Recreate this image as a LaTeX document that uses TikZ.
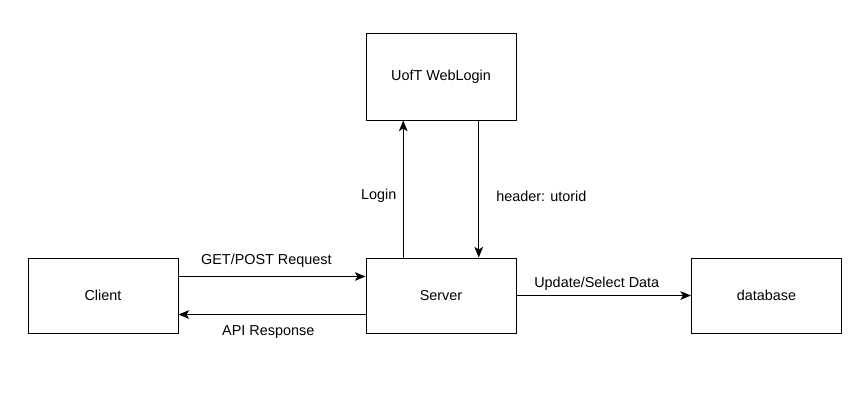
\documentclass[tikz,border=0pt]{standalone}
\usepackage{fontspec}
\setmainfont{Liberation Sans}
\usetikzlibrary{arrows.meta,calc}

\tikzset{
  block/.style={draw, line width=0.75pt, minimum width=112.5pt, minimum height=56.25pt, inner sep=0pt, font=\fontsize{10.8}{13}\selectfont},
  link/.style={line width=0.75pt, -{Stealth[length=8pt,width=6.5pt,inset=2pt]}},
  lbl/.style={inner sep=0.75pt, font=\fontsize{10.8}{13}\selectfont}
}

\begin{document}
\begin{tikzpicture}[x=0.75pt,y=0.75pt,yscale=-1,xscale=1]
\useasboundingbox (0,0) rectangle (863,415);

% Boxes
\node [block] (client) at (103,295.5) {Client};
\node [block] (server) at (441,295.5) {Server};
\node [block] (database) at (766.5,295.5) {database};
\node [block, minimum height=65.25pt] (weblogin) at (441,76.5) {UofT WebLogin};

% Client <-> Server
\draw [link] ($(client.north east)!0.25!(client.south east)$) -- ($(server.north west)!0.25!(server.south west)$) node [lbl, pos=0.47, above=6pt] {GET/POST Request};
\draw [link] ($(server.north west)!0.75!(server.south west)$) -- ($(client.north east)!0.75!(client.south east)$) node [lbl, pos=0.52, below=7.5pt] {API Response};

% Server <-> WebLogin
\draw [link] ($(server.north west)!0.25!(server.north east)$) -- ($(weblogin.south west)!0.25!(weblogin.south east)$) node [lbl, pos=0.45, left=4pt] {Login};
\draw [link] ($(weblogin.south west)!0.75!(weblogin.south east)$) -- ($(server.north west)!0.75!(server.north east)$) node [lbl, pos=0.55, right=12pt] {header: utorid};

% Server -> database
\draw [link] (server.east) -- (database.west) node [lbl, pos=0.46, above=3pt] {Update/Select Data};

\end{tikzpicture}
\end{document}
